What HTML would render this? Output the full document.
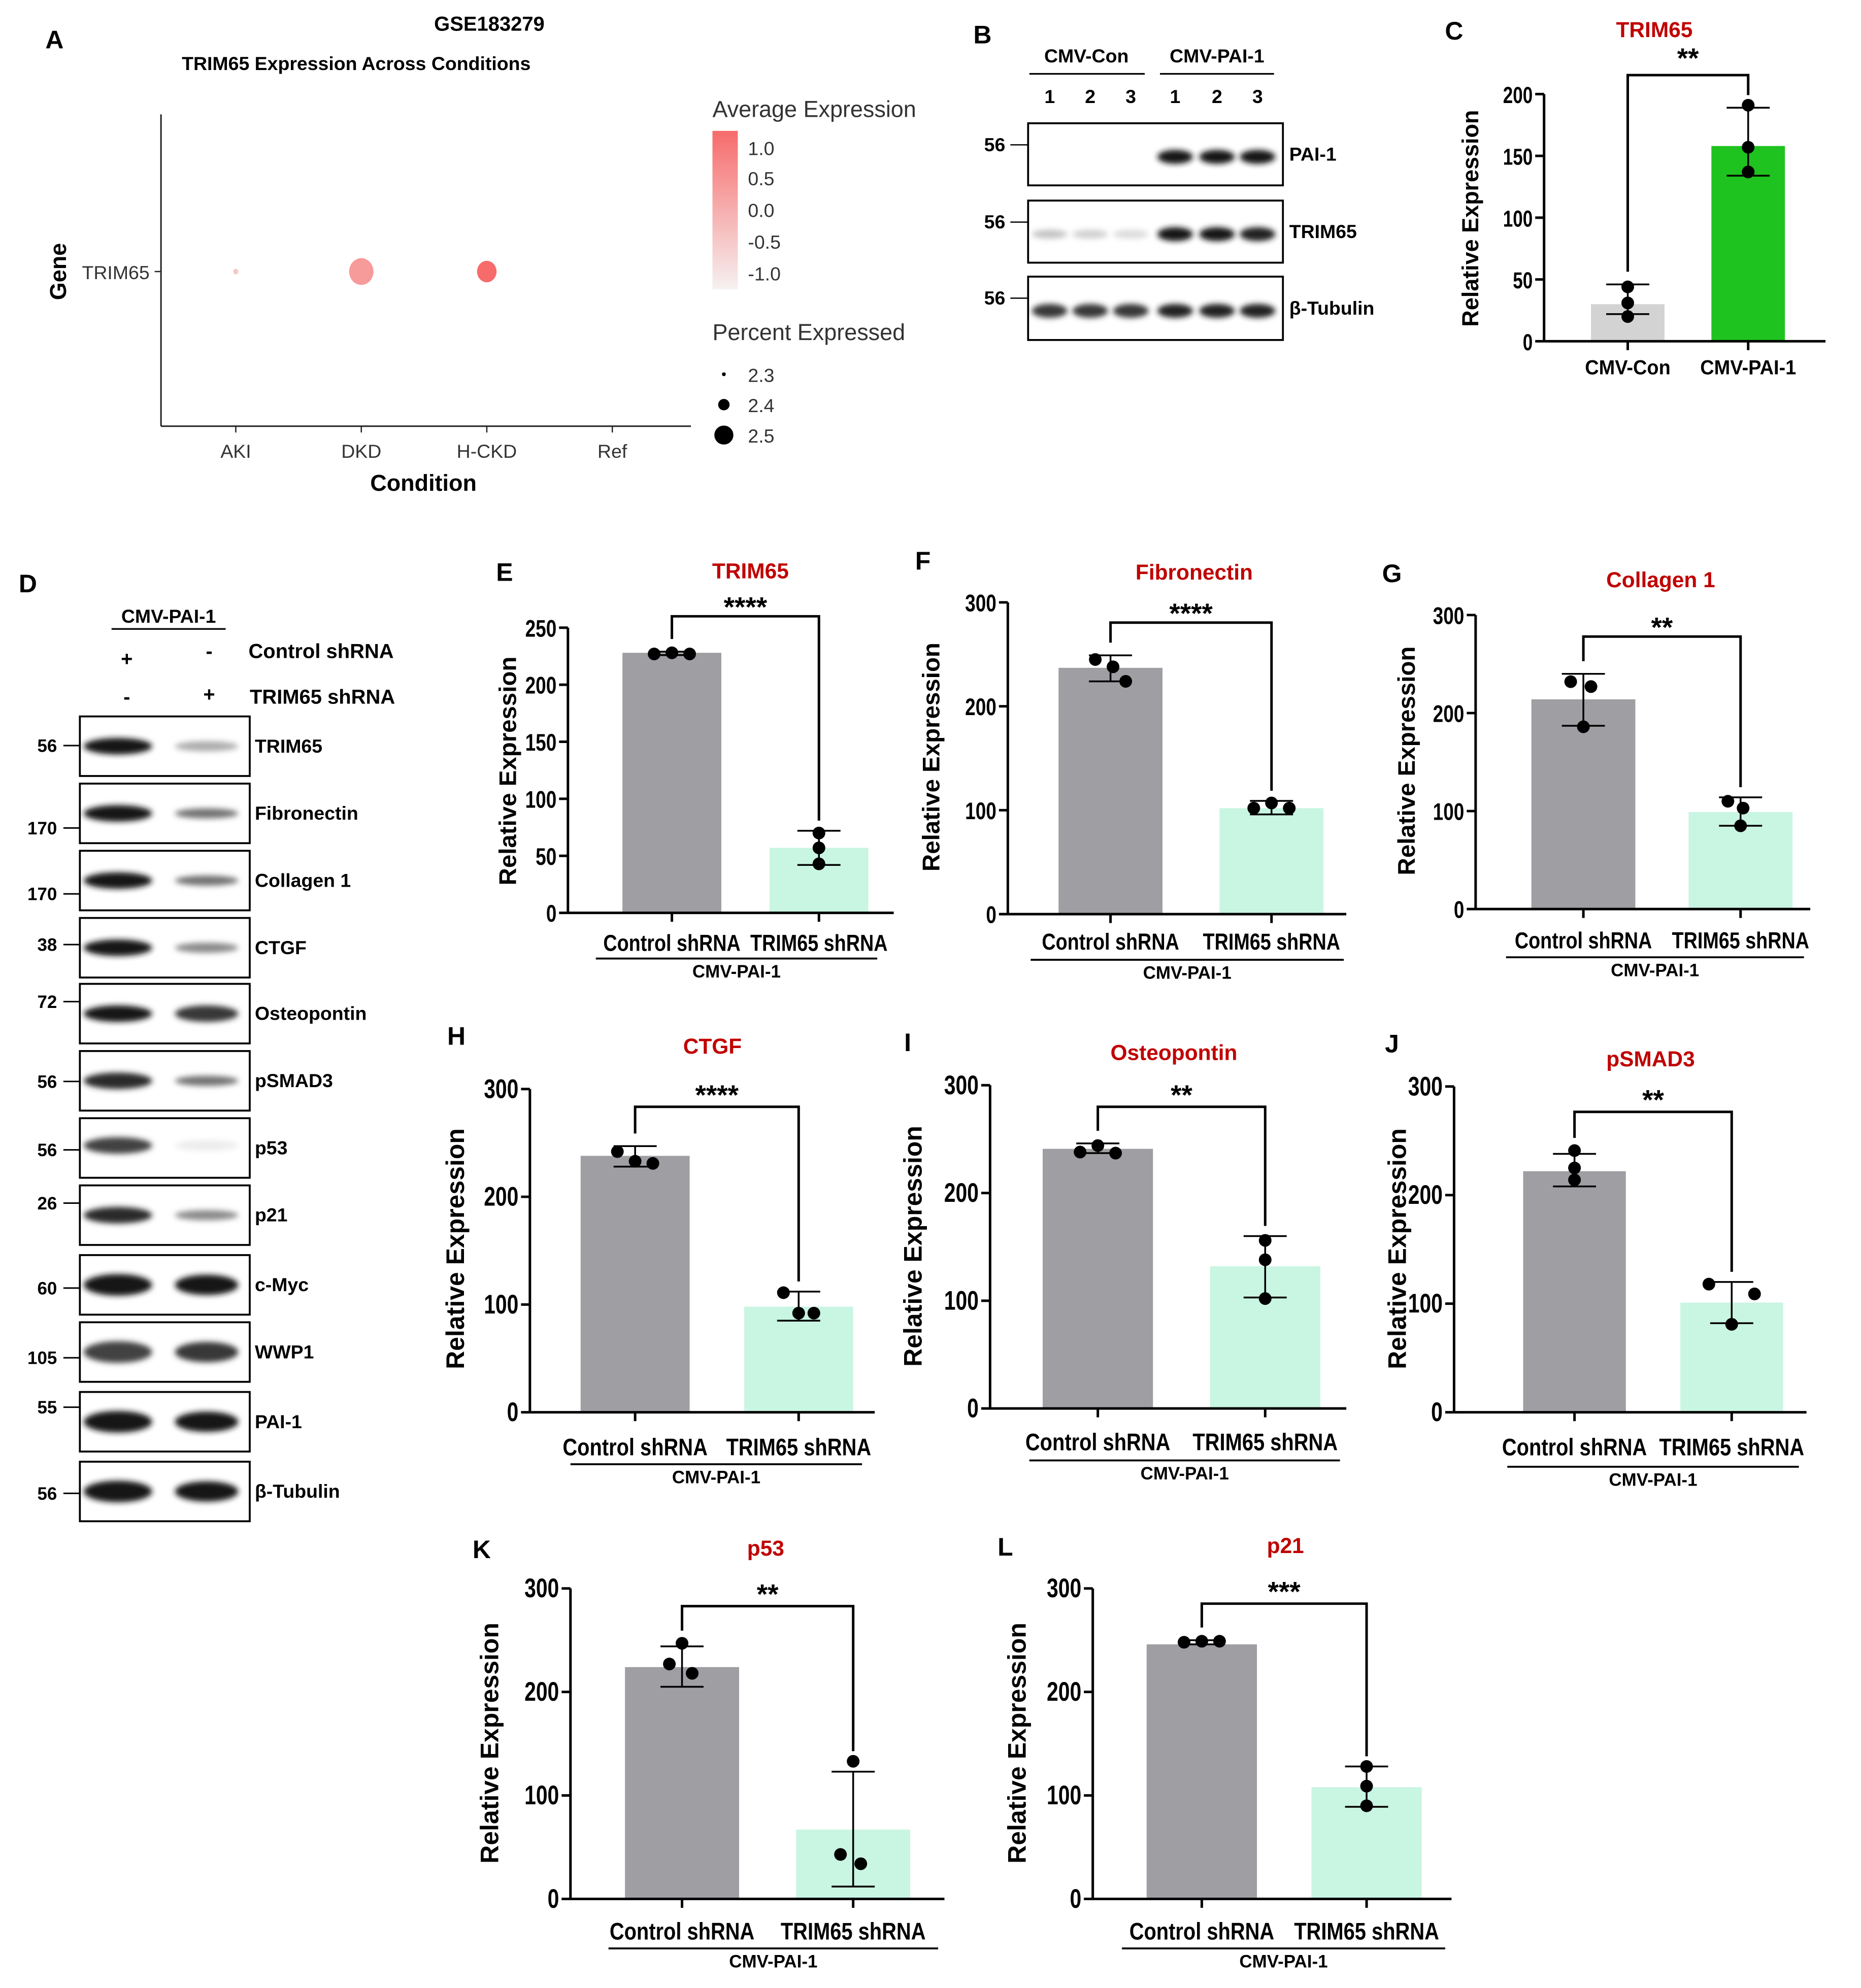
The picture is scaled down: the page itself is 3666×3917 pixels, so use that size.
<!DOCTYPE html>
<html><head><meta charset="utf-8"><style>
html,body{margin:0;padding:0;background:#fff}
svg{display:block}
text{font-family:"Liberation Sans",Arial,sans-serif}
</style></head><body>
<svg id="fig" xmlns="http://www.w3.org/2000/svg" width="3666" height="3917" viewBox="0 0 1468 1568">
<defs>
<filter id="blur" x="-30%" y="-100%" width="160%" height="300%"><feGaussianBlur stdDeviation="2.2"/></filter>
<linearGradient id="grad" x1="0" y1="0" x2="0" y2="1"><stop offset="0" stop-color="#f76b6b"/><stop offset="1" stop-color="#f6f1f1"/></linearGradient>
</defs>
<g id="root"></g>
</svg>
<script>
// ---------- Panel A data ----------
const condA = ["AKI","DKD","H-CKD","Ref"];
const avgA = [-0.4, 0.3, 1.0, null];
const pctA = [2.3, 2.5, 2.45, null];
// ---------- Panel C data ----------
const catsC = ["CMV-Con","CMV-PAI-1"];
const meansC = [30, 158];
const ptsC = [[44,31,20],[191,157,137]];
const errLoC = [22,134];
const errHiC = [46,189];
const ticksC = [0,50,100,150,200];
// ---------- shRNA panels data ----------
const catsSh = ["Control shRNA","TRIM65 shRNA"];
const meansE=[228,57]; const ptsE=[[227,228,227],[70,57,43]]; const errLoE=[226,42]; const errHiE=[229,72]; const ticksE=[0,50,100,150,200,250];
const meansF=[237,102]; const ptsF=[[245,238,224],[102,107,102]]; const errLoF=[224,96]; const errHiF=[249,109]; const ticksF=[0,100,200,300];
const meansG=[214,99]; const ptsG=[[232,227,186],[110,103,85]]; const errLoG=[187,85]; const errHiG=[240,114]; const ticksG=[0,100,200,300];
const meansH=[238,98]; const ptsH=[[242,233,231],[111,92,92]]; const errLoH=[228,85]; const errHiH=[247,112]; const ticksH=[0,100,200,300];
const meansI=[241,132]; const ptsI=[[238,244,237],[156,138,102]]; const errLoI=[237,103]; const errHiI=[246,160]; const ticksI=[0,100,200,300];
const meansJ=[222,101]; const ptsJ=[[241,225,214],[118,109,81]]; const errLoJ=[208,82]; const errHiJ=[238,120]; const ticksJ=[0,100,200,300];
const meansK=[224,67]; const ptsK=[[247,227,218],[133,43,34]]; const errLoK=[205,12]; const errHiK=[244,123]; const ticksK=[0,100,200,300];
const meansL=[246,108]; const ptsL=[[248,249,249],[128,109,90]]; const errLoL=[246,89]; const errHiL=[250,128]; const ticksL=[0,100,200,300];
// ---------- Blot D data ----------
const proteinsD = ["TRIM65","Fibronectin","Collagen 1","CTGF","Osteopontin","pSMAD3","p53","p21","c-Myc","WWP1","PAI-1","β-Tubulin"];
const mwD = ["56","170","170","38","72","56","56","26","60","105","55","56"];
const intensD = [[1,0.35],[1,0.6],[1,0.6],[1,0.5],[1,0.85],[0.9,0.6],[0.8,0.08],[0.9,0.5],[1,1],[0.8,0.85],[1,1],[1,1]];

const NS="http://www.w3.org/2000/svg";
const root=document.getElementById('root');
function el(tag,attrs,parent,txt){const e=document.createElementNS(NS,tag);for(const k in attrs)e.setAttribute(k,attrs[k]);if(txt!==undefined)e.textContent=txt;(parent||root).appendChild(e);return e;}
function txt(x,y,s,size,opts,parent){opts=opts||{};const a={x:x,y:y,'font-size':size,'text-anchor':opts.anchor||'middle','font-weight':opts.bold===false?'normal':'bold',fill:opts.fill||'#000'};if(opts.rot)a.transform='rotate(-90 '+x+' '+y+')';const t=el('text',a,parent,s);
 if(opts.cond){const w=t.getComputedTextLength();if(w>0){t.setAttribute('textLength',(w*opts.cond).toFixed(1));t.setAttribute('lengthAdjust','spacingAndGlyphs');}}
 return t;}
function letter(ch,x,y){const t=txt(x,y,ch,20,{});}

// ---------- Panel A ----------
(function(){
 const g=el('g',{});
 
 
 letter('A',43,38);
 txt(386,24,'GSE183279',16,{},g);
 txt(281,55,'TRIM65 Expression Across Conditions',15,{},g);
 el('line',{x1:127,y1:90,x2:127,y2:336,stroke:'#222','stroke-width':1.2},g);
 el('line',{x1:127,y1:336,x2:545,y2:336,stroke:'#222','stroke-width':1.2},g);
 el('line',{x1:122,y1:214,x2:127,y2:214,stroke:'#222'},g);
 txt(118,220,'TRIM65',15,{anchor:'end',bold:false,fill:'#333'},g);
 txt(52,214,'Gene',18,{rot:true},g);
 txt(334,387,'Condition',18,{},g);
 const xs=c=>186+99*c;
 const col=v=>{const t=(v+1)/2;const r=Math.round(246+(247-246)*t),gg=Math.round(241-(241-107)*t),b=Math.round(241-(241-107)*t);return 'rgb('+r+','+gg+','+b+')';};
 const rad=p=>2+(p-2.3)*38;
 condA.forEach((c,i)=>{
  const x=xs(i);
  el('line',{x1:x,y1:336,x2:x,y2:341,stroke:'#222'},g);
  txt(x,361,c,15,{bold:false,fill:'#333'},g);
  if(avgA[i]!==null){const d=el('ellipse',{cx:x,cy:214,rx:rad(pctA[i]),ry:rad(pctA[i])*1.1,fill:col(avgA[i])},g);
   
   }
 });
 txt(562,92,'Average Expression',18,{anchor:'start',bold:false,fill:'#333'},g);
 el('rect',{x:562,y:103,width:20,height:125,fill:'url(#grad)'},g);
 [['1.0',117],['0.5',141],['0.0',166],['-0.5',191],['-1.0',216]].forEach(l=>txt(590,l[1]+5,l[0],15,{anchor:'start',bold:false,fill:'#333'},g));
 txt(562,268,'Percent Expressed',18,{anchor:'start',bold:false,fill:'#333'},g);
 [[2.3,295],[2.4,319],[2.5,343]].forEach(l=>{el('circle',{cx:571,cy:l[1],r:(l[0]-2.3)*30+1.5,fill:'#000'},g);txt(590,l[1]+6,String(l[0]),15,{anchor:'start',bold:false,fill:'#333'},g);});
})();

function band(g,cx,cy,w,h,inten){
 if(inten<=0.02)return;
 const c=Math.round(255-235*inten);
 el('ellipse',{cx:cx,cy:cy,rx:w/2,ry:h/2,fill:'rgb('+c+','+c+','+c+')',filter:'url(#blur)'},g);
}

// ---------- Panel B ----------
(function(){
 const g=el('g',{});
 
 
 letter('B',775,34);
 txt(857,49,'CMV-Con',15,{},g); el('line',{x1:812,y1:58,x2:903,y2:58,stroke:'#000','stroke-width':1.3},g);
 txt(960,49,'CMV-PAI-1',15,{},g); el('line',{x1:915,y1:58,x2:1005,y2:58,stroke:'#000','stroke-width':1.3},g);
 const lanes=[828,860,892,927,960,992];
 lanes.forEach((x,i)=>txt(x,81,String((i%3)+1),15,{},g));
 const rows=[['PAI-1',97,146,[0,0,0,1,1,1]],['TRIM65',158,207,[0.25,0.2,0.15,1,1,0.95]],['β-Tubulin',218,268,[0.85,0.85,0.85,0.95,0.95,0.95]]];
 rows.forEach(r=>{
  const rg=el('g',{},g);
  
  
  el('rect',{x:811,y:r[1],width:201,height:r[2]-r[1],fill:'#fff',stroke:'#000','stroke-width':1.5},rg);
  const cy=(r[1]+r[2])/2+2;
  r[3].forEach((v,i)=>band(rg,lanes[i],cy,28,v>0.5?11:7,v));
  txt(1017,cy+3,r[0],15,{anchor:'start'},g);
  el('line',{x1:797,y1:r[1]+17,x2:811,y2:r[1]+17,stroke:'#000'},g);
  txt(793,r[1]+22,'56',15,{anchor:'end'},g);
 });
})();

// ---------- bar chart function ----------
function barChart(id,L,cats,means,pts,errLo,errHi,ticks,colors){
 const g=el('g',{});
 
 
 const maxT=ticks[ticks.length-1];
 const y=v=>L.y0-v*(L.y0-L.yTop)/maxT;
 letter(id.toUpperCase(),L.lx,L.ly);
 const tt=txt(L.tx,L.ty,L.title,17,{fill:'#c00000'},g);
 
 
 const yl=txt(L.ylx,L.yly,'Relative Expression',L.ylSize||19,{rot:true},g);
 
 
 means.forEach((m,i)=>{
  const b=el('rect',{x:L.cx[i]-L.bw/2,y:y(m),width:L.bw,height:L.y0-y(m),fill:colors[i]},g);
  
  
 });
 const sw=L.sw||2;
 el('line',{x1:L.ax,y1:L.y0,x2:L.ax,y2:L.yTop,stroke:'#000','stroke-width':sw},g);
 el('line',{x1:L.ax,y1:L.y0,x2:L.xEnd,y2:L.y0,stroke:'#000','stroke-width':sw},g);
 ticks.forEach(t=>{el('line',{x1:L.ax-7,y1:y(t),x2:L.ax,y2:y(t),stroke:'#000','stroke-width':sw},g);
  txt(L.ax-9,y(t)+7,String(t),L.tickSize||20,{anchor:'end',cond:0.78},g);});
 L.cx.forEach(x=>el('line',{x1:x,y1:L.y0,x2:x,y2:L.y0+7,stroke:'#000','stroke-width':sw},g));
 const offs=L.offs||[[-14,0,14],[-14,0,14]];
 means.forEach((m,i)=>{
  const x=L.cx[i];
  el('line',{x1:x,y1:y(errLo[i]),x2:x,y2:y(errHi[i]),stroke:'#000','stroke-width':1.4},g);
  [errLo[i],errHi[i]].forEach(v=>el('line',{x1:x-17,y1:y(v),x2:x+17,y2:y(v),stroke:'#000','stroke-width':1.4},g));
  pts[i].forEach((p,k)=>{const c=el('circle',{cx:x+offs[i][k],cy:y(p),r:5,fill:'#000'},g);
   
   });
 });
 const top0=Math.max(errHi[0],...pts[0]), top1=Math.max(errHi[1],...pts[1]);
 el('polyline',{points:L.cx[0]+','+(y(top0)-10)+' '+L.cx[0]+','+L.brY+' '+L.cx[1]+','+L.brY+' '+L.cx[1]+','+(y(top1)-8),fill:'none',stroke:'#000','stroke-width':sw},g);
 txt((L.cx[0]+L.cx[1])/2,L.brY-6+(L.starDy||0),L.star,22,{},g);
 cats.forEach((c,i)=>{const t=txt(L.cx[i],L.labY,c,L.labSize||19,{bold:true,cond:L.labCond||0.84},g);});
 if(L.ulY){el('line',{x1:L.ul1,y1:L.ulY,x2:L.ul2,y2:L.ulY,stroke:'#000','stroke-width':1.5},g);
  txt((L.ul1+L.ul2)/2,L.ulY+15,'CMV-PAI-1',14,{},g);}
}
const gray='#9e9ea3', mint='#c9f5e3';
barChart('c',{ax:1218,y0:269,yTop:74,xEnd:1440,cx:[1284,1379],bw:58,tx:1305,ty:29,title:'TRIM65',lx:1147,ly:31,ylx:1166,yly:172,ylSize:18,tickSize:18,brY:59,star:'**',labY:295,labSize:16,labCond:0.95,offs:[[0,0,0],[0,0,0]]},catsC,meansC,ptsC,errLoC,errHiC,ticksC,['#d3d3d3','#1fc31f']);
barChart('e',{ax:448,y0:720,yTop:495,xEnd:705,cx:[530,646],bw:78,tx:592,ty:456,title:'TRIM65',lx:398,ly:458,ylx:407,yly:608,tickSize:19,brY:486,star:'****',starDy:6,labY:750,labSize:18,ulY:756,ul1:470,ul2:692,offs:[[-14,0,14],[0,0,0]]},catsSh,meansE,ptsE,errLoE,errHiE,ticksE,[gray,mint]);
barChart('f',{ax:795,y0:721,yTop:475,xEnd:1062,cx:[876,1003],bw:82,tx:942,ty:457,title:'Fibronectin',lx:728,ly:449,ylx:741,yly:597,tickSize:19,brY:491,star:'****',starDy:6,labY:749,labSize:18,ulY:757,ul1:813,ul2:1060,offs:[[-12,2,12],[-14,0,14]]},catsSh,meansF,ptsF,errLoF,errHiF,ticksF,[gray,mint]);
barChart('g',{ax:1164,y0:717,yTop:485,xEnd:1428,cx:[1249,1373],bw:82,tx:1310,ty:463,title:'Collagen 1',lx:1098,ly:459,ylx:1116,yly:600,tickSize:19,brY:502,star:'**',starDy:6,labY:748,labSize:18,ulY:755,ul1:1188,ul2:1423,offs:[[-10,6,0],[-10,2,0]]},catsSh,meansG,ptsG,errLoG,errHiG,ticksG,[gray,mint]);
barChart('h',{ax:418,y0:1114,yTop:859,xEnd:690,cx:[501,630],bw:86,tx:562,ty:831,title:'CTGF',lx:360,ly:824,ylx:366,yly:985,ylSize:20,tickSize:21,brY:873,star:'****',starDy:4,labY:1148,ulY:1155,ul1:450,ul2:680,offs:[[-14,0,14],[-12,0,12]]},catsSh,meansH,ptsH,errLoH,errHiH,ticksH,[gray,mint]);
barChart('i',{ax:781,y0:1111,yTop:856,xEnd:1062,cx:[866,998],bw:87,tx:926,ty:836,title:'Osteopontin',lx:716,ly:829,ylx:727,yly:983,ylSize:20,tickSize:21,brY:873,star:'**',starDy:4,labY:1144,ulY:1152,ul1:812,ul2:1057,offs:[[-14,0,14],[0,0,0]]},catsSh,meansI,ptsI,errLoI,errHiI,ticksI,[gray,mint]);
barChart('j',{ax:1147,y0:1114,yTop:857,xEnd:1425,cx:[1242,1366],bw:81,tx:1302,ty:841,title:'pSMAD3',lx:1098,ly:830,ylx:1109,yly:985,ylSize:20,tickSize:21,brY:877,star:'**',starDy:4,labY:1148,ulY:1157,ul1:1189,ul2:1419,offs:[[0,0,0],[-18,18,0]]},catsSh,meansJ,ptsJ,errLoJ,errHiJ,ticksJ,[gray,mint]);
barChart('k',{ax:450,y0:1498,yTop:1253,xEnd:745,cx:[538,673],bw:90,tx:604,ty:1227,title:'p53',lx:380,ly:1229,ylx:393,yly:1375,ylSize:20,tickSize:21,brY:1267,star:'**',starDy:4,labY:1530,ulY:1537,ul1:480,ul2:740,offs:[[0,-10,8],[0,-10,6]]},catsSh,meansK,ptsK,errLoK,errHiK,ticksK,[gray,mint]);
barChart('l',{ax:862,y0:1498,yTop:1253,xEnd:1145,cx:[948,1078],bw:87,tx:1014,ty:1225,title:'p21',lx:793,ly:1227,ylx:809,yly:1375,ylSize:20,tickSize:21,brY:1265,star:'***',starDy:4,labY:1530,ulY:1537,ul1:885,ul2:1140,offs:[[-14,0,14],[0,0,0]]},catsSh,meansL,ptsL,errLoL,errHiL,ticksL,[gray,mint]);

// ---------- Panel D ----------
(function(){
 const g=el('g',{});
 
 
 letter('D',22,467);
 txt(133,491,'CMV-PAI-1',15,{},g); el('line',{x1:88,y1:496,x2:178,y2:496,stroke:'#000','stroke-width':1.3},g);
 txt(100,525,'+',16,{},g); txt(165,519,'-',16,{},g); txt(196,519,'Control shRNA',16,{anchor:'start'},g);
 txt(100,555,'-',16,{},g); txt(165,553,'+',16,{},g); txt(197,555,'TRIM65 shRNA',16,{anchor:'start'},g);
 const tops=[565,618,671,724,776,829,882,935,990,1043,1098,1153];
 const mwY=[588,653,705,745,790,853,907,949,1016,1071,1110,1178];
 proteinsD.forEach((p,i)=>{
  const rg=el('g',{},g);
  
  
  const t=tops[i],h=47;
  el('rect',{x:63,y:t,width:134,height:h,fill:'#fff',stroke:'#000','stroke-width':1.5},rg);
  const cy=t+h/2+(i===6?-2:0);
  band(rg,93,cy,54,i>=8?17:13,intensD[i][0]);
  band(rg,163,cy,50,i>=8?16:(intensD[i][1]>0.7?13:8),intensD[i][1]);
  txt(201,t+h/2+5,p,15,{anchor:'start'},g);
  el('line',{x1:50,y1:mwY[i],x2:63,y2:mwY[i],stroke:'#000','stroke-width':1.2},g);
  txt(45,mwY[i]+5,mwD[i],14,{anchor:'end'},g);
 });
})();
</script>
</body></html>
